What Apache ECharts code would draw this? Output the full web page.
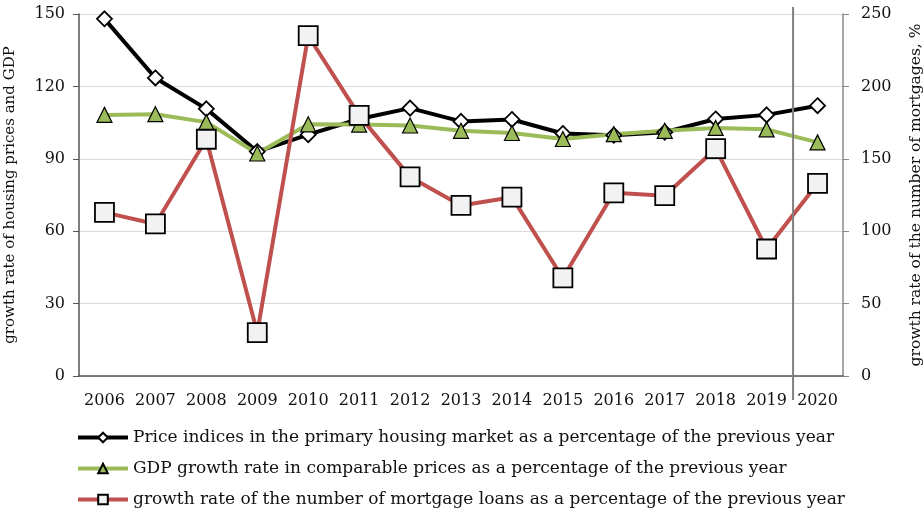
<!DOCTYPE html>
<html lang="en">
<head>
  <meta charset="UTF-8">
  <title>Housing prices, GDP and mortgages</title>
  <script src="https://cdn.jsdelivr.net/npm/echarts@6/dist/echarts.min.js"></script>
  <style>
    html, body { margin: 0; padding: 0; background: #fff; }
    #main { width: 924px; height: 515px; }
  </style>
</head>
<body>
  <div id="main"></div>

  <script type="text/javascript">
  var years = ['2006','2007','2008','2009','2010','2011','2012','2013','2014','2015','2016','2017','2018','2019','2020'];
  var priceIdx = [148, 123.5, 110.7, 93, 100, 106.5, 111, 105.5, 106.3, 100.5, 99.8, 101, 106.5, 108.2, 112];
  var gdpRate = [108.2, 108.5, 105.2, 92.2, 104.3, 104.2, 103.8, 101.6, 100.7, 98.2, 100.2, 101.6, 102.8, 102.2, 96.8];
  var mortgages = [113, 105, 163.5, 30, 235, 180, 137.5, 117.8, 123.5, 67.7, 126.5, 124.5, 157, 87.7, 133];
  var leftTicks = { min: 0, max: 150, interval: 30 };
  var rightTicks = { min: 0, max: 250, interval: 50 };

  var names = [
    'Price indices in the primary housing market as a percentage of the previous year',
    'GDP growth rate in comparable prices as a percentage of the previous year',
    'growth rate of the number of mortgage loans as a percentage of the previous year'
  ];

  var font = 'DejaVu Serif';
  var myChart = echarts.init(document.getElementById('main'));

  var option = {
    animation: false,
    grid: { left: 79, right: 81, top: 14, bottom: 139, outerBoundsMode: 'none', containLabel: false },
    legend: {
      orient: 'vertical',
      left: 76,
      top: 429,
      padding: 0,
      itemGap: 14,
      itemWidth: 50,
      itemHeight: 12,
      lineStyle: { width: 4 },
      textStyle: { fontFamily: font, fontSize: 17, color: '#111' },
      data: names
    },
    xAxis: {
      type: 'category',
      data: years,
      boundaryGap: true,
      axisLine: { lineStyle: { color: '#555', width: 1.5 } },
      axisTick: { length: 7, lineStyle: { color: '#555' } },
      axisLabel: { interval: 0, fontFamily: font, fontSize: 16, color: '#111', margin: 17 }
    },
    yAxis: [
      {
        type: 'value',
        min: leftTicks.min, max: leftTicks.max, interval: leftTicks.interval,
        name: 'growth rate of housing prices and GDP',
        nameLocation: 'middle',
        nameRotate: 90,
        nameGap: 61,
        nameTextStyle: { fontFamily: font, fontSize: 15, color: '#111' },
        axisLine: { show: true, lineStyle: { color: '#555', width: 1.5 } },
        axisTick: { show: true, length: 6, lineStyle: { color: '#555' } },
        axisLabel: { fontFamily: font, fontSize: 16, color: '#111', margin: 14 },
        splitLine: { lineStyle: { color: '#d9d9d9', width: 1 } }
      },
      {
        type: 'value',
        position: 'right',
        min: rightTicks.min, max: rightTicks.max, interval: rightTicks.interval,
        name: 'growth rate of the number of mortgages, %',
        nameLocation: 'middle',
        nameRotate: 90,
        nameGap: 65,
        nameTextStyle: { fontFamily: font, fontSize: 15.5, color: '#111' },
        axisLine: { show: true, lineStyle: { color: '#888', width: 1.5 } },
        axisTick: { show: true, length: 6, lineStyle: { color: '#888' } },
        axisLabel: { fontFamily: font, fontSize: 16, color: '#111', margin: 18 },
        splitLine: { show: false }
      }
    ],
    series: [
      {
        name: names[0],
        type: 'line',
        yAxisIndex: 0,
        data: priceIdx,
        symbol: 'diamond',
        symbolSize: 15,
        lineStyle: { color: '#000', width: 4 },
        itemStyle: { color: '#fff', borderColor: '#000', borderWidth: 1.8 }
      },
      {
        name: names[1],
        type: 'line',
        yAxisIndex: 0,
        data: gdpRate,
        symbol: 'triangle',
        symbolSize: 15,
        lineStyle: { color: '#9bbb59', width: 4 },
        itemStyle: { color: '#9bbb59', borderColor: '#000', borderWidth: 1.2 }
      },
      {
        name: names[2],
        type: 'line',
        yAxisIndex: 1,
        data: mortgages,
        symbol: 'rect',
        symbolSize: 19,
        lineStyle: { color: '#c0504d', width: 4 },
        itemStyle: { color: '#f2f2f2', borderColor: '#000', borderWidth: 1.8 }
      }
    ]
  };
  myChart.setOption(option);

  // grey divider between 2019 and 2020
  var x19 = myChart.convertToPixel({ xAxisIndex: 0 }, '2019');
  var x20 = myChart.convertToPixel({ xAxisIndex: 0 }, '2020');
  var xd = (x19 + x20) / 2 + 1;
  myChart.setOption({
    graphic: [{
      type: 'line',
      z: 50,
      shape: { x1: xd, y1: 7, x2: xd, y2: 400 },
      style: { stroke: '#808080', lineWidth: 2 }
    }]
  });
</script>
</body>
</html>
